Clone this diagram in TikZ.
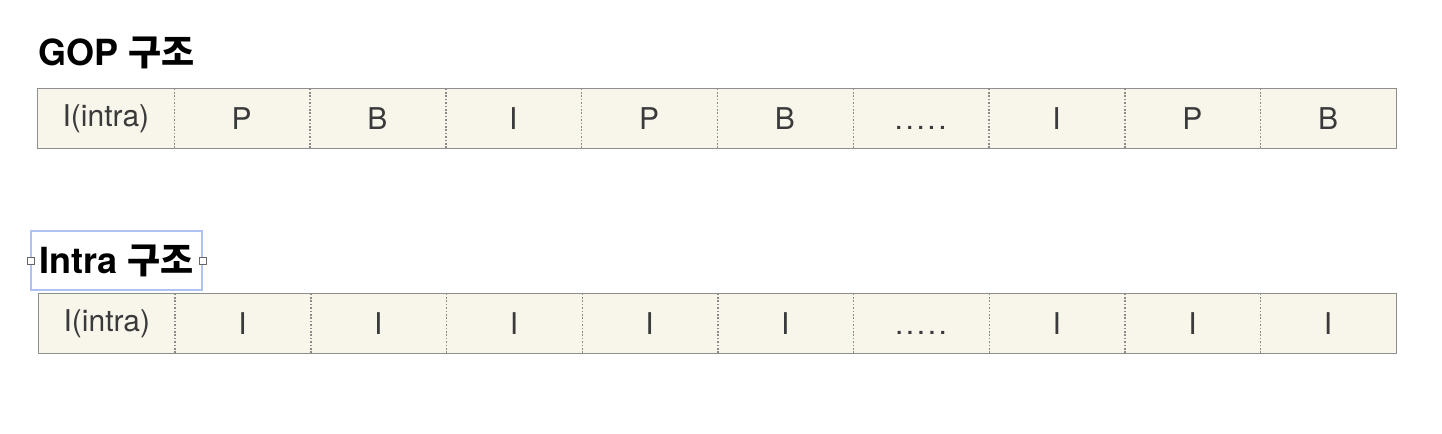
\documentclass[tikz,border=0pt]{standalone}
\usepackage{fontspec}
\setmainfont{TeX Gyre Heros}
\newfontfamily\kr{Noto Sans CJK KR}
\usepackage{xcolor}
\usetikzlibrary{positioning}
\definecolor{cellfill}{HTML}{F8F6EB}
\definecolor{cellline}{HTML}{8E8E8E}
\definecolor{cellsep}{HTML}{8A8A8A}
\definecolor{celltext}{HTML}{3A3A3A}
\definecolor{selblue}{HTML}{AFC2F2}
\newcommand{\gapdots}{\vphantom{I}.\kern1.3pt.\kern1.3pt.\kern1.3pt.\kern1.3pt.}

\begin{document}
\begin{tikzpicture}[x=0.5pt,y=-0.5pt,
cell/.style={fill=cellfill,inner sep=0pt,minimum width=67.9pt,minimum height=29.5pt,text=celltext,font=\fontsize{15}{15}\selectfont},
sep/.style={cellsep,dash pattern=on 0.8pt off 0.9pt,line width=0.7pt},
title/.style={inner sep=0pt,font=\fontsize{18}{18}\selectfont\bfseries},
handle/.style={draw=black!60,fill=white,line width=0.4pt,minimum size=3.5pt,inner sep=0pt}
]
\useasboundingbox (0,0) rectangle (1442,434);
% GOP
\node[title,anchor=base west] (gop) at (38,65) {GOP {\kr\bfseries 구조}};
\foreach \t [count=\i] in {I(intra),P,B,I,P,B,\gapdots,I,P,B}
  \node[cell] (g\i) at ({38+135.8*(\i-0.5)},118.5) {\t};
\foreach \i in {1,...,9}
  \draw[sep] (g\i.north east) -- (g\i.south east);
\draw[cellline,line width=0.7pt] (g1.north west) rectangle (g10.south east);
% Intra
\node[title,draw=selblue,line width=0.6pt,minimum width=85.5pt,minimum height=29.5pt] (intra) at (116.5,260.5) {Intra {\kr\bfseries 구조}};
\node[handle] at (intra.west) {};
\node[handle] at (intra.east) {};
\foreach \t [count=\i] in {I(intra),I,I,I,I,I,\gapdots,I,I,I}
  \node[cell] (n\i) at ({39+135.7*(\i-0.5)},323.5) {\t};
\foreach \i in {1,...,9}
  \draw[sep] (n\i.north east) -- (n\i.south east);
\draw[cellline,line width=0.7pt] (n1.north west) rectangle (n10.south east);
\end{tikzpicture}
\end{document}
